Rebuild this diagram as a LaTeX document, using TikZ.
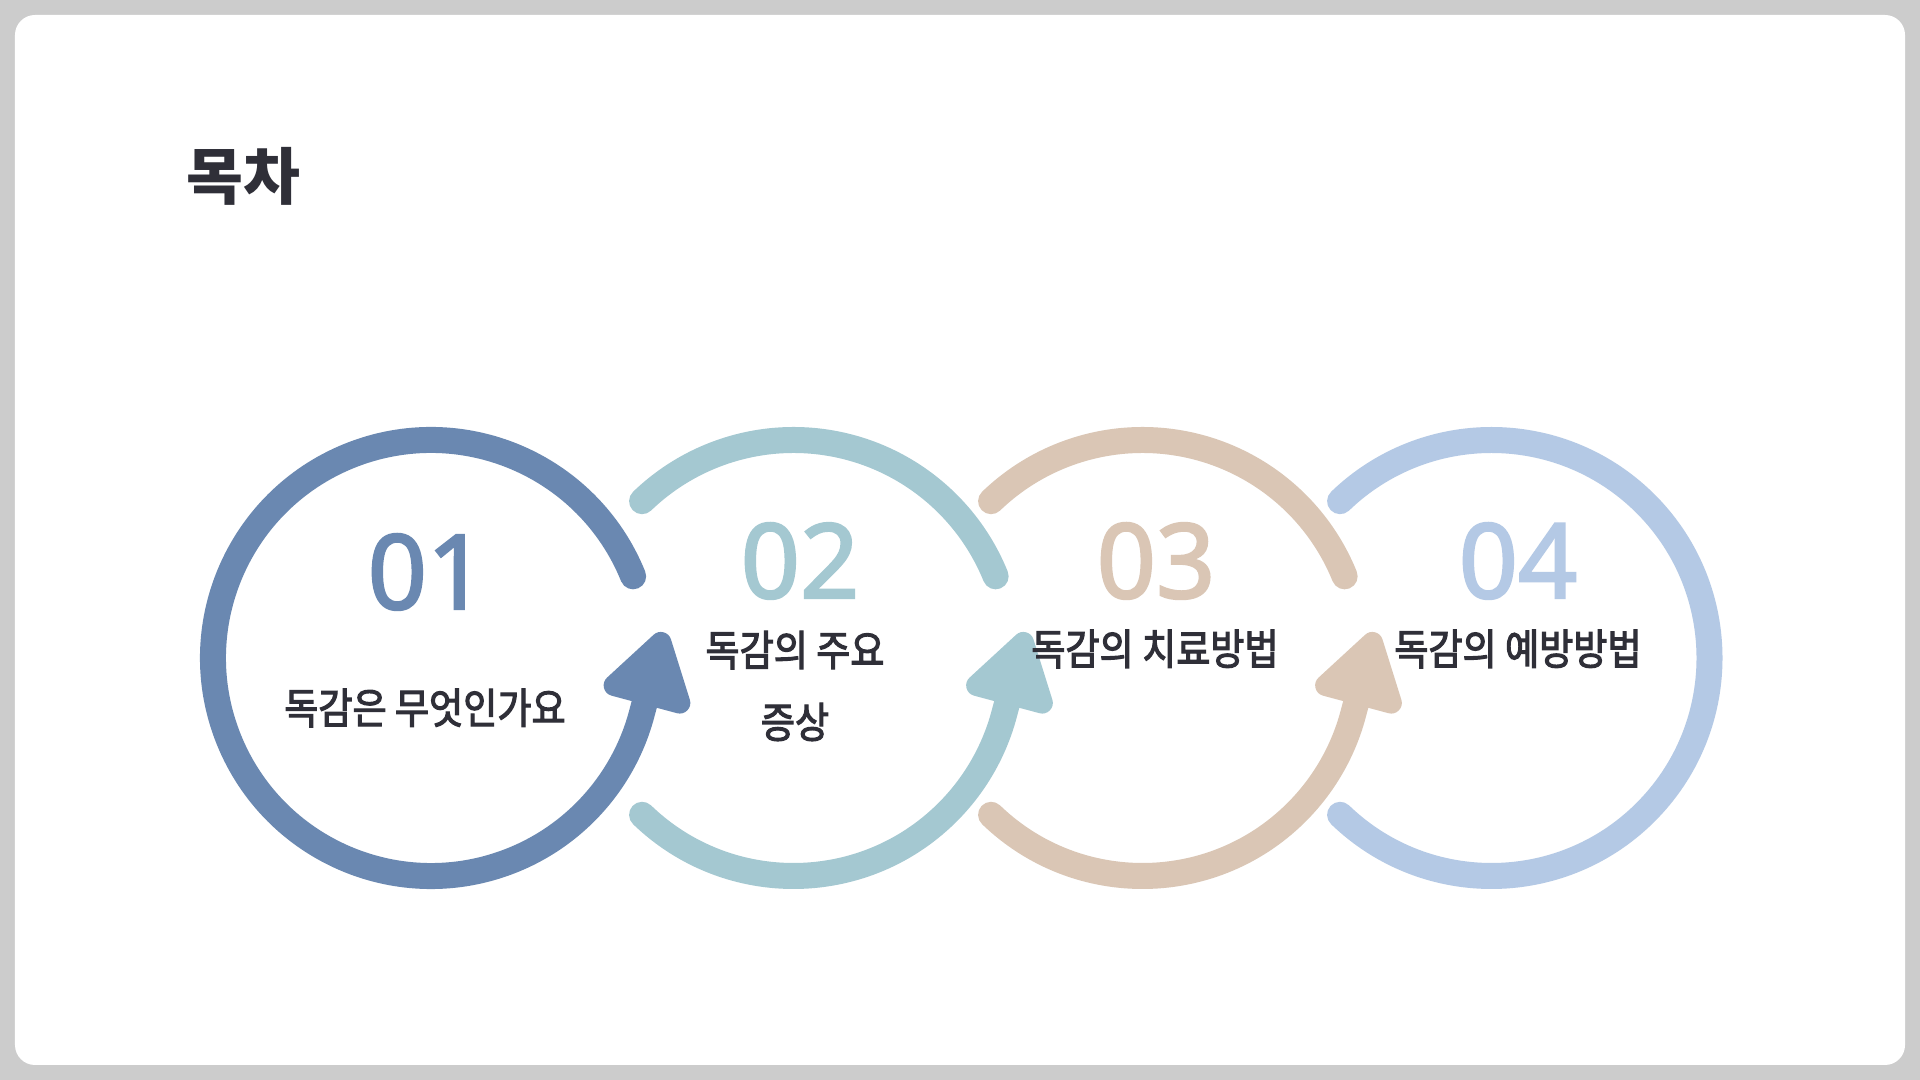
\documentclass[tikz,border=0pt]{standalone}
\usepackage{fontspec}
\usepackage{tikz}
\usetikzlibrary{arrows.meta}
\setmainfont{Noto Sans CJK KR}
\newfontfamily\krfont[FakeStretch=0.88, FakeBold=2.6]{Noto Sans CJK KR}
\newfontfamily\numfont[FakeBold=2.2]{Noto Sans}
\definecolor{cgris}{HTML}{CCCCCC}
\definecolor{ctexto}{HTML}{2F2F38}
\definecolor{cazul}{HTML}{6A88B1}
\definecolor{cverdeazul}{HTML}{A4C8D1}
\definecolor{cbeige}{HTML}{DAC6B5}
\definecolor{cceleste}{HTML}{B4C9E5}
\tikzset{
  anillo/.style={line width=0.26cm, line cap=round},
  flechaanillo/.style={anillo, -{Triangle[length=0.85cm, width=1cm, round]}},
  num/.style={font=\numfont\fontsize{29.5}{29.5}\selectfont, inner sep=0pt},
  etq/.style={font=\krfont\fontsize{12}{20.5}\selectfont, text=ctexto,
    align=center, inner sep=0pt},
  titulo/.style={font=\bfseries\fontsize{17.6}{17.6}\selectfont, text=ctexto,
    inner sep=0pt},
}
\begin{document}
\begin{tikzpicture}
  \fill[cgris] (0,0) rectangle (19.2,10.8);
  \fill[white, rounded corners=0.2cm] (0.15,0.15) rectangle (19.05,10.65);

  \node[titulo, anchor=west] (tit) at (1.86,9.04) {목차};

  \coordinate (c1) at (4.31,4.22);
  \coordinate (c2) at (7.935,4.22);
  \coordinate (c3) at (11.425,4.22);
  \coordinate (c4) at (14.915,4.22);

  % anillo 1
  \draw[flechaanillo, cazul] (c1) ++(22:2.18)
    arc[start angle=22, end angle=345, radius=2.18] -- ++(75:0.85);
  % anillo 2
  \draw[anillo, cverdeazul] (c2) ++(22:2.18)
    arc[start angle=22, end angle=134, radius=2.18];
  \draw[flechaanillo, cverdeazul] (c2) ++(226:2.18)
    arc[start angle=226, end angle=345, radius=2.18] -- ++(75:0.85);
  % anillo 3
  \draw[anillo, cbeige] (c3) ++(22:2.18)
    arc[start angle=22, end angle=134, radius=2.18];
  \draw[flechaanillo, cbeige] (c3) ++(226:2.18)
    arc[start angle=226, end angle=345, radius=2.18] -- ++(75:0.85);
  % anillo 4
  \draw[anillo, cceleste] (c4) ++(226:2.18)
    arc[start angle=226, end angle=494, radius=2.18];

  \node[num, text=cazul] (n1) at (4.27,5.08) {01};
  \node[num, text=cverdeazul] (n2) at (8.0,5.19) {02};
  \node[num, text=cbeige] (n3) at (11.56,5.19) {03};
  \node[num, text=cceleste] (n4) at (15.18,5.19) {04};

  \node[etq] (t1) at (4.25,3.72) {독감은 무엇인가요};
  \node[etq] (t2) at (7.95,3.94) {독감의 주요\\증상};
  \node[etq] (t3) at (11.55,4.31) {독감의 치료방법};
  \node[etq] (t4) at (15.18,4.31) {독감의 예방방법};
\end{tikzpicture}
\end{document}
